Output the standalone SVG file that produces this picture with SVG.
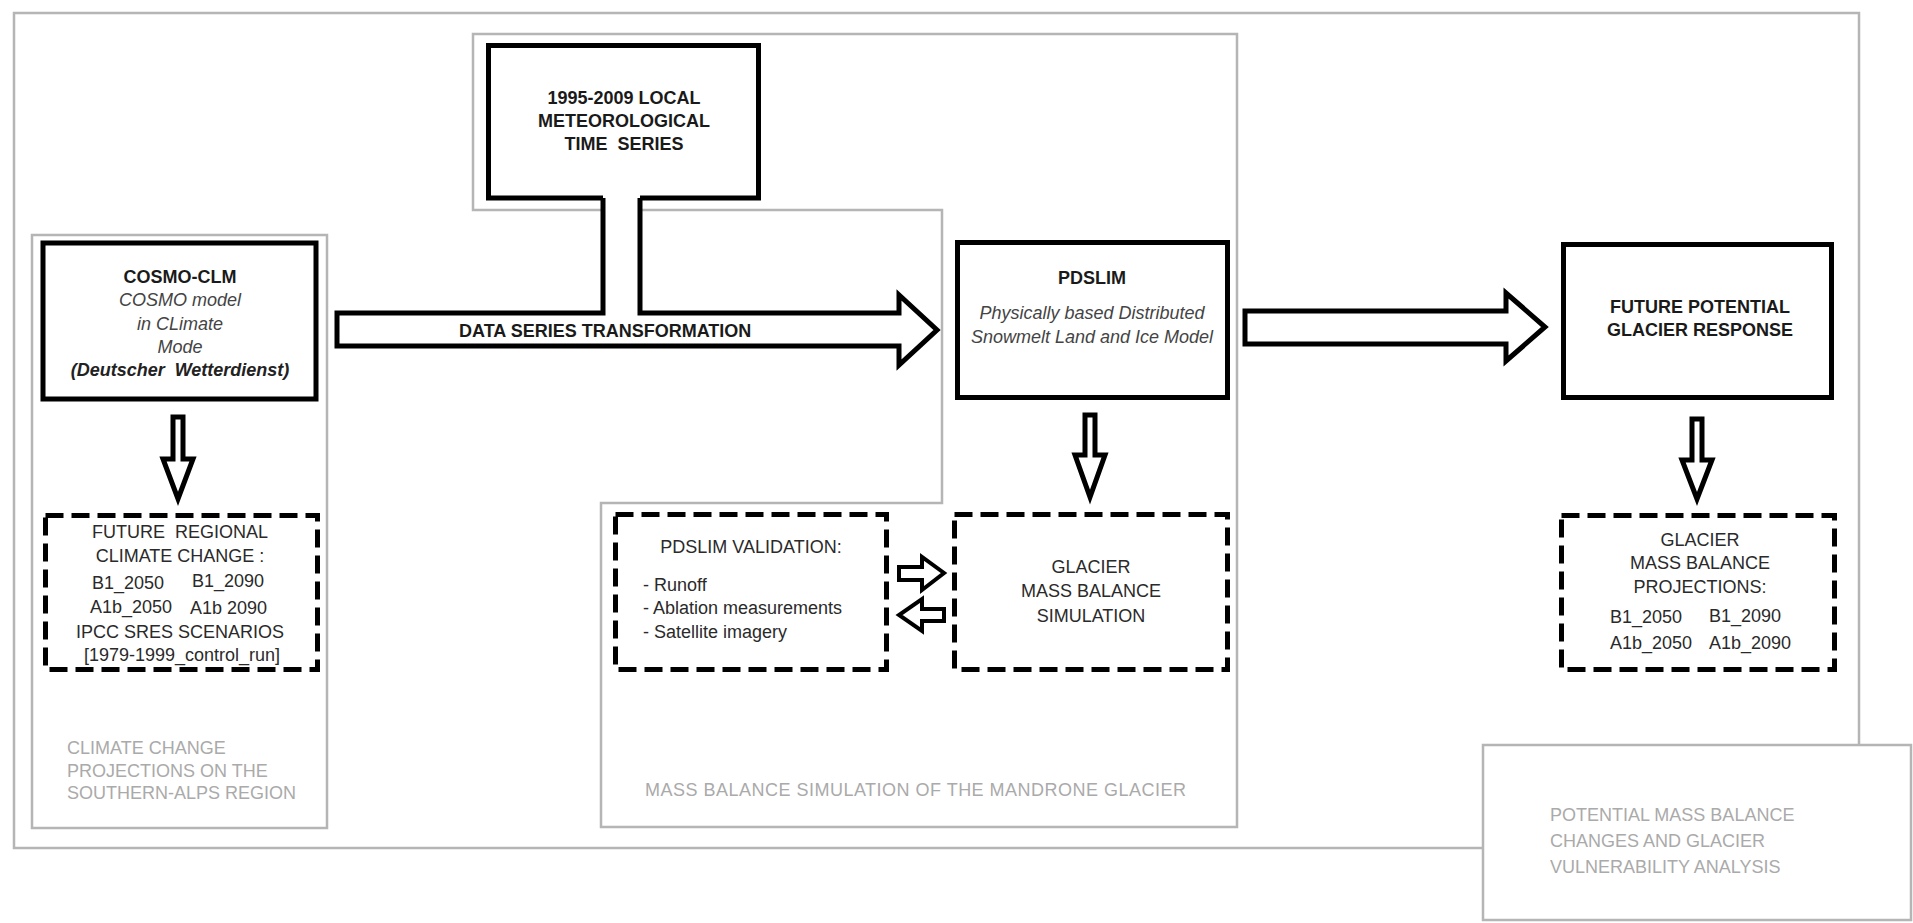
<svg xmlns="http://www.w3.org/2000/svg" width="1913" height="923" viewBox="0 0 1913 923">
<style>
text{font-family:"Liberation Sans",Arial,sans-serif;font-size:18px;fill:#2a2a2a;white-space:pre}
.b{font-weight:bold;fill:#1a1a1a}
.i{font-style:italic;fill:#444}
.bi{font-style:italic;font-weight:bold;fill:#222}
.c{text-anchor:middle}
.lbl{fill:#aaa}
.frame{fill:none;stroke:#b5b5b5;stroke-width:2.5}
.box{fill:#fff;stroke:#000;stroke-width:5}
.dash{fill:#fff;stroke:#000;stroke-width:5;stroke-dasharray:18 8}
.arr{fill:#fff;stroke:#000;stroke-width:5;stroke-linejoin:miter}
.sarr{fill:#fff;stroke:#000;stroke-width:4;stroke-linejoin:miter}
</style>
<rect width="1913" height="923" fill="#fff"/>
<g id="frames">
<rect class="frame" x="14" y="13" width="1845" height="835"/>
<rect class="frame" x="32" y="235" width="295" height="593" fill="#fff"/>
<path class="frame" fill="#fff" d="M473,34 H1237 V827 H601 V503 H942 V210 H473 Z"/>
<text class="lbl" x="67" y="754">CLIMATE CHANGE</text>
<text class="lbl" x="67" y="777">PROJECTIONS ON THE</text>
<text class="lbl" x="67" y="799">SOUTHERN-ALPS REGION</text>
<text class="lbl" x="645" y="796" font-size="17" textLength="541">MASS BALANCE SIMULATION OF THE MANDRONE GLACIER</text>
</g>
<g id="potential-analysis">
<rect x="1483" y="745" width="428" height="175" fill="#fff" stroke="#b5b5b5" stroke-width="2.5"/>
<text class="lbl" x="1550" y="821" font-size="22">POTENTIAL MASS BALANCE</text>
<text class="lbl" x="1550" y="847" font-size="22">CHANGES AND GLACIER</text>
<text class="lbl" x="1550" y="873" font-size="22">VULNERABILITY ANALYSIS</text>
</g>
<g id="connectors">
<path class="arr" d="M603,198 V313 H337 V346 H899 V365 L937,330 L899,295 V313 H640 V198"/>
<path class="arr" d="M1245,311 V344 H1506 V361 L1545,327 L1506,293 V311 Z"/>
<path class="arr" d="M173,417 V459 H163 L178,499 L193,459 H183 V417 Z"/>
<path class="arr" d="M1085,415 V455 H1075 L1090,497 L1105,455 H1095 V415 Z"/>
<path class="arr" d="M1692,419 V460 H1682 L1697,499 L1712,460 H1702 V419 Z"/>
<path class="sarr" d="M899,567 V580 H922 V590 L944,573 L922,557 V567 Z"/>
<path class="sarr" d="M944,609 V621 H922 V631 L899,615 L922,599 V609 Z"/>
<text class="b" x="459" y="337">DATA SERIES TRANSFORMATION</text>
</g>
<g id="cosmo-clm">
<rect class="box" x="43" y="243" width="273" height="156"/>
<text class="b c" x="180" y="283">COSMO-CLM</text>
<text class="i c" x="180" y="306">COSMO model</text>
<text class="i c" x="180" y="330">in CLimate</text>
<text class="i c" x="180" y="353">Mode</text>
<text class="bi c" x="180" y="376">(Deutscher  Wetterdienst)</text>
</g>
<g id="regional-climate-change">
<rect class="dash" x="45.5" y="515.5" width="272" height="154"/>
<text class="c" x="180" y="538">FUTURE  REGIONAL</text>
<text class="c" x="180" y="562">CLIMATE CHANGE :</text>
<text x="92" y="589">B1_2050</text>
<text x="192" y="587">B1_2090</text>
<text x="90" y="613">A1b_2050</text>
<text x="190" y="614">A1b 2090</text>
<text class="c" x="180" y="638">IPCC SRES SCENARIOS</text>
<text class="c" x="182" y="661">[1979-1999_control_run]</text>
</g>
<g id="meteo-series">
<path class="box" fill="none" d="M603,198 H488.5 V45.5 H758.5 V198 H640"/>
<text class="b c" x="624" y="104">1995-2009 LOCAL</text>
<text class="b c" x="624" y="127">METEOROLOGICAL</text>
<text class="b c" x="624" y="150">TIME  SERIES</text>
</g>
<g id="pdslim">
<rect class="box" x="957.5" y="242.5" width="270" height="155"/>
<text class="b c" x="1092" y="284">PDSLIM</text>
<text class="i c" x="1092" y="319">Physically based Distributed</text>
<text class="i c" x="1092" y="343">Snowmelt Land and Ice Model</text>
</g>
<g id="pdslim-validation">
<rect class="dash" x="615.5" y="514.5" width="271" height="155"/>
<text class="c" x="751" y="553">PDSLIM VALIDATION:</text>
<text x="643" y="591">- Runoff</text>
<text x="643" y="614">- Ablation measurements</text>
<text x="643" y="638">- Satellite imagery</text>
</g>
<g id="glacier-simulation">
<rect class="dash" x="954.5" y="514.5" width="273" height="155"/>
<text class="c" x="1091" y="573">GLACIER</text>
<text class="c" x="1091" y="597">MASS BALANCE</text>
<text class="c" x="1091" y="622">SIMULATION</text>
</g>
<g id="future-response">
<rect class="box" x="1563.5" y="244.5" width="268" height="153"/>
<text class="b c" x="1700" y="313">FUTURE POTENTIAL</text>
<text class="b c" x="1700" y="336">GLACIER RESPONSE</text>
</g>
<g id="mass-balance-projections">
<rect class="dash" x="1561.5" y="515.5" width="273" height="154"/>
<text class="c" x="1700" y="546">GLACIER</text>
<text class="c" x="1700" y="569">MASS BALANCE</text>
<text class="c" x="1700" y="593">PROJECTIONS:</text>
<text x="1610" y="623">B1_2050</text>
<text x="1709" y="622">B1_2090</text>
<text x="1610" y="649">A1b_2050</text>
<text x="1709" y="649">A1b_2090</text>
</g>
</svg>
